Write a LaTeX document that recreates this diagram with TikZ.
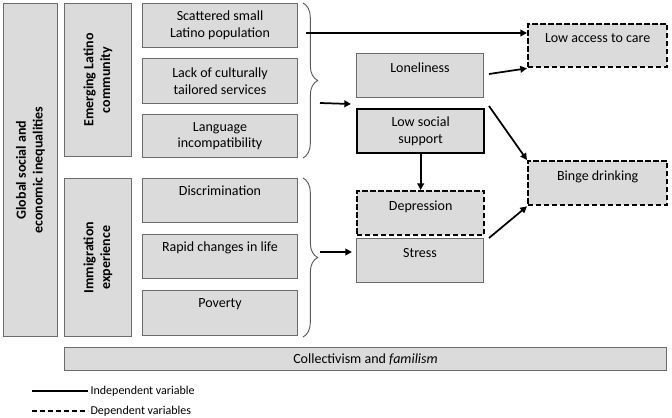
\documentclass[tikz,border=0pt]{standalone}
\usepackage{fontspec}
\setmainfont{Carlito}
\usetikzlibrary{decorations.pathreplacing,arrows.meta}
\begin{document}
\begin{tikzpicture}[x=0.75pt,y=-0.75pt,
 box/.style={draw=gray!85!black,fill=gray!28,line width=0.6pt,align=center,font=\fontsize{10.5}{12.5}\selectfont},
 dep/.style={draw=black,line width=1.6pt,dash pattern=on 4pt off 2pt},
 ind/.style={draw=black,line width=1.6pt},
 arr/.style={-{Triangle[length=5pt,width=5pt]},line width=1.3pt},
 lab/.style={font=\fontsize{10.5}{12.5}\selectfont\bfseries,rotate=90,align=center}]
\useasboundingbox (0,0) rectangle (672,418);
\newcommand\bx[6]{\node[box,#6,minimum width=#3*0.75pt-0.6pt,minimum height=#4*0.75pt-0.6pt,anchor=north west,inner sep=1pt] (#1) at (#2) {#5};}
\bx{glob}{3,3}{55}{334}{}{}
\node[lab] at (glob.center) {Global social and\\economic inequalities};
\bx{emer}{64,3}{68}{154}{}{}
\node[lab] at (emer.center) {Emerging Latino\\community};
\bx{immi}{64,178}{68}{159}{}{}
\node[lab] at (immi.center) {Immigration\\experience};
\bx{s1}{142,3}{156}{45}{Scattered small\\Latino population}{}
\bx{s2}{142,58}{156}{46}{Lack of culturally\\tailored services}{}
\bx{s3}{142,114}{156}{44}{Language\\incompatibility}{}
\bx{s4}{142,178}{156}{45}{Discrimination\\[3pt]}{}
\bx{s5}{142,234}{156}{45}{Rapid changes in life\\[3pt]}{}
\bx{s6}{142,290}{156}{46}{Poverty\\[3pt]}{}
\bx{lone}{356,53}{128}{45}{Loneliness\\[-1pt]}{}
\bx{lss}{356,108}{128}{45}{Low social\\support}{draw=black,line width=1.6pt}
\bx{dep}{356,190}{128}{45}{Depression\\[-1pt]}{dep}
\bx{str}{356,238}{128}{45}{Stress\\[-1pt]}{}
\bx{acc}{527,23}{140}{44}{Low access to care\\[-1pt]}{dep}
\bx{bin}{527,160}{140}{45}{Binge drinking\\[-1pt]}{dep}
\bx{col}{64,347}{603}{24}{Collectivism and \emph{familism}}{}
\draw[gray!70!black,line width=0.7pt,decorate,decoration={brace,amplitude=11pt}] (303,3) -- (303,158);
\draw[gray!70!black,line width=0.7pt,decorate,decoration={brace,amplitude=11pt}] (303,178) -- (303,337);
\coordinate (b1) at (306,33);
\coordinate (b2) at (320,103);
\coordinate (b3) at (320,252);
\draw[arr] (b1) -- (acc.west|-b1);
\draw[arr] (b2) -- (351,104);
\draw[arr] (b3) -- (352,252);
\draw[arr] (lss.south) -- (dep.north);
\draw[arr] (489,74) -- (acc.south west);
\draw[arr] (489,106) -- (bin.north west);
\draw[arr] (489,238) -- (bin.south west);
\coordinate (l1) at (32,391); \coordinate (l1e) at (88,391);
\coordinate (l2) at (32,411); \coordinate (l2e) at (88,411);
\draw[ind] (l1) -- (l1e);
\draw[dep] (l2) -- (l2e);
\node[anchor=west,inner sep=1pt,font=\fontsize{9}{10}\selectfont] (t1) at (89,391) {Independent variable};
\node[anchor=west,inner sep=1pt,font=\fontsize{9}{10}\selectfont] (t2) at (89,411) {Dependent variables};
\end{tikzpicture}
\end{document}
